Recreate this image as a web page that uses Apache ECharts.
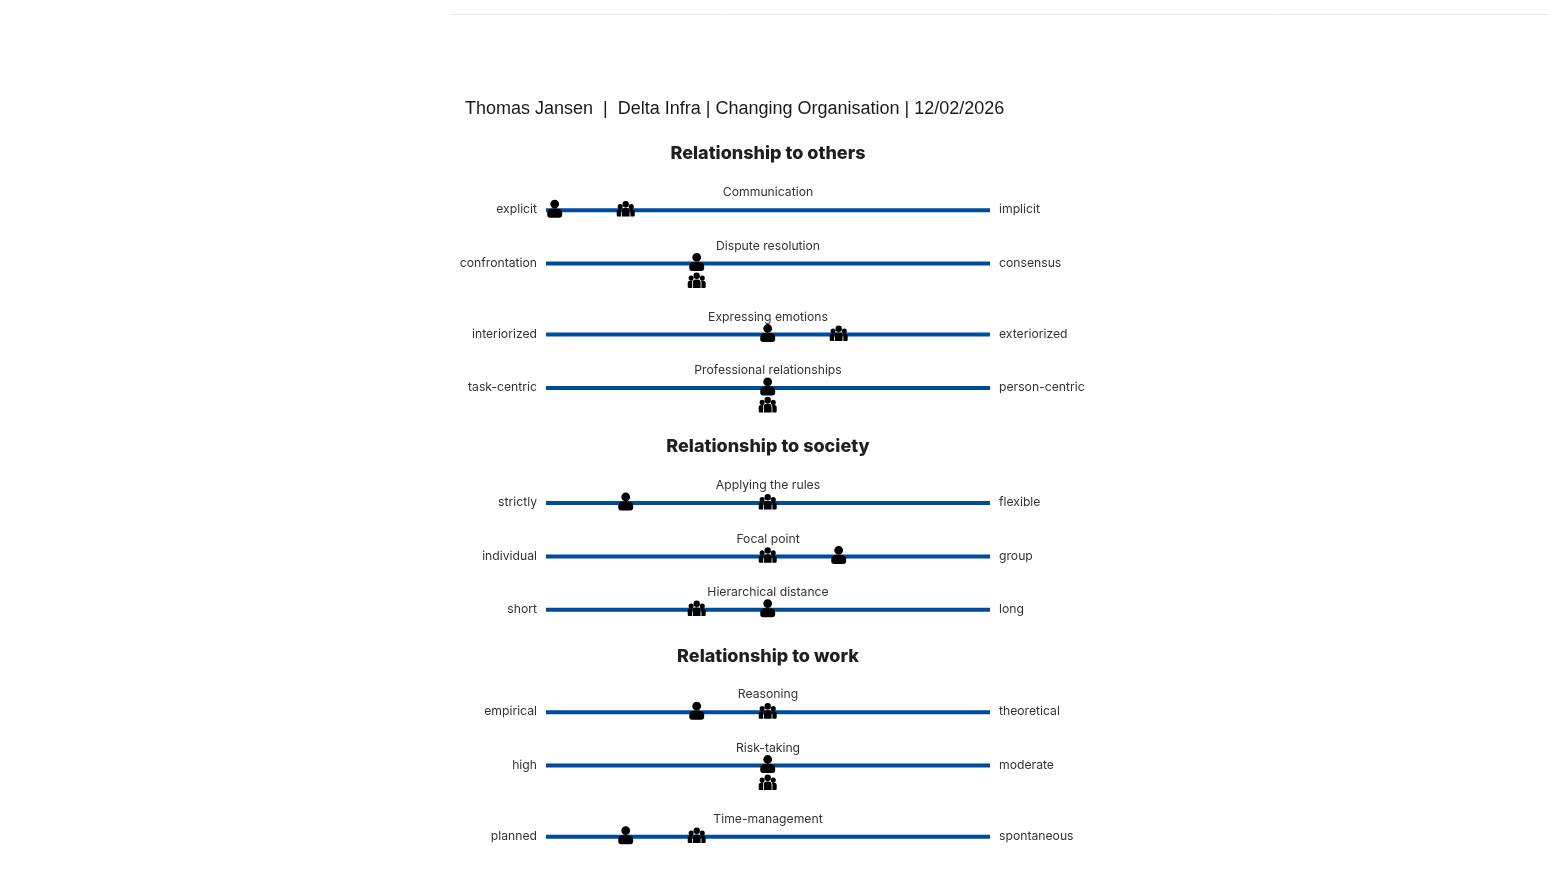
<!DOCTYPE html>
<html>
<head>
<meta charset="utf-8">
<style>html,body{margin:0;padding:0;background:#fff}#c{width:1548px;height:890px}</style>
<script src="https://cdn.jsdelivr.net/npm/echarts@6/dist/echarts.min.js"></script>
</head>
<body>
<div id="c"></div>
<script>
const chartTitle = 'Thomas Jansen \u00a0|\u00a0 Delta Infra | Changing Organisation | 12/02/2026';
const sectionNames = ['Relationship to others', 'Relationship to society', 'Relationship to work'];
const sectionSizes = [4, 3, 3];
const dimensions = ['Communication', 'Dispute resolution', 'Expressing emotions', 'Professional relationships', 'Applying the rules', 'Focal point', 'Hierarchical distance', 'Reasoning', 'Risk-taking', 'Time-management'];
const leftLabels = ['explicit', 'confrontation', 'interiorized', 'task-centric', 'strictly', 'individual', 'short', 'empirical', 'high', 'planned'];
const rightLabels = ['implicit', 'consensus', 'exteriorized', 'person-centric', 'flexible', 'group', 'long', 'theoretical', 'moderate', 'spontaneous'];
const personValues = [1, 3, 4, 4, 2, 5, 4, 3, 4, 2];
const groupValues = [2, 3, 5, 4, 4, 4, 3, 4, 4, 3];

const circle = (x, y, r) => `M${x - r} ${y}a${r} ${r} 0 1 0 ${2 * r} 0a${r} ${r} 0 1 0 ${-2 * r} 0Z`;
const personPath = 'path://' + circle(7.5, 4.4, 4.4) + 'M0 15V14Q0 9 5 9H10Q15 9 15 14V15Q15 18 12 18H3Q0 18 0 15Z';
const groupPath = 'path://' + circle(9, 3.2, 3.2) + circle(3.4, 5.4, 2.5) + circle(14.6, 5.4, 2.5) +
  'M5.1 15V9.6Q5.1 6.8 8 6.8H10Q12.9 6.8 12.9 9.6V15Z' +
  'M0 13.8V10.4Q0 8 2.6 8H4.7Q4.3 8.8 4.3 9.8V15H1.2Q0 15 0 13.8Z' +
  'M18 13.8V10.4Q18 8 15.4 8H13.3Q13.7 8.8 13.7 9.8V15H16.8Q18 15 18 13.8Z';

// Layout: walk the sections and stack the rows; a row with a stacked pair takes extra room.
const ROW_GAP = 53.3, STACK_EXTRA = 17.8, HEADER_TO_ROW = 57.2, ROW_TO_HEADER = 45.4, HEADER_STACK_EXTRA = 12.6;
const rowY = [], headerY = [];
let cursor = 153, idx = 0;
sectionSizes.forEach((n, s) => {
  headerY.push(cursor);
  cursor += HEADER_TO_ROW;
  for (let k = 0; k < n; k++, idx++) {
    rowY.push(cursor);
    const stacked = personValues[idx] === groupValues[idx];
    const last = k === n - 1;
    cursor += (last ? ROW_TO_HEADER + (stacked ? HEADER_STACK_EXTRA : 0) : ROW_GAP + (stacked ? STACK_EXTRA : 0));
  }
});

const XMIN = 0.873, XMAX = 7.127, MID = 4;
const textColor = '#333333';
const labelFont = 'Inter, "Open Sans", sans-serif';
const solid = { opacity: 1 };

const series = [];
dimensions.forEach((d, i) => {
  series.push({
    type: 'line', name: d, silent: true, symbol: 'none', z: 1,
    lineStyle: { color: '#004b9b', width: 4, cap: 'butt' },
    data: [[XMIN, rowY[i]], [XMAX, rowY[i]]]
  });
});
series.push({
  type: 'scatter', name: 'Left', symbolSize: 0, z: 3, silent: true, itemStyle: solid,
  data: leftLabels.map((t, i) => ({ value: [XMIN, rowY[i]], name: t })),
  label: { show: true, position: 'left', distance: 9, offset: [0, -0.5], formatter: p => p.name, color: textColor, fontFamily: labelFont, fontSize: 12.2 }
});
series.push({
  type: 'scatter', name: 'Right', symbolSize: 0, z: 3, silent: true, itemStyle: solid,
  data: rightLabels.map((t, i) => ({ value: [XMAX, rowY[i]], name: t })),
  label: { show: true, position: 'right', distance: 9, offset: [0, -0.5], formatter: p => p.name, color: textColor, fontFamily: labelFont, fontSize: 12.2 }
});
series.push({
  type: 'scatter', name: 'Dimensions', symbolSize: 0, z: 3, silent: true, itemStyle: solid,
  data: dimensions.map((t, i) => ({ value: [MID, rowY[i]], name: t })),
  label: { show: true, position: 'top', distance: 11.5, formatter: p => p.name, color: textColor, fontFamily: labelFont, fontSize: 12.2 }
});
series.push({
  type: 'scatter', name: 'Sections', symbolSize: 0, z: 3, silent: true, itemStyle: solid,
  data: sectionNames.map((t, i) => ({ value: [MID, headerY[i]], name: t })),
  label: { show: true, position: 'inside', offset: [0, 1], formatter: p => p.name, color: '#1f1f1f', fontFamily: labelFont, fontWeight: 800, fontSize: 18 }
});
series.push({
  type: 'scatter', name: 'Person', symbol: personPath, symbolSize: [15, 18], symbolOffset: [-0.3, -1.5], z: 5, silent: true,
  itemStyle: { color: '#000', opacity: 1 },
  data: personValues.map((v, i) => [v, rowY[i]])
});
series.push({
  type: 'scatter', name: 'Group', symbol: groupPath, symbolSize: [18, 15.6], z: 4, silent: true,
  itemStyle: { color: '#000', opacity: 1 },
  data: groupValues.map((v, i) => ({
    value: [v, rowY[i]],
    symbolOffset: [-0.3, v === personValues[i] ? 16.7 : -1.4]
  }))
});

const chart = echarts.init(document.getElementById('c'), null, { renderer: 'canvas' });
chart.setOption({
  animation: false,
  backgroundColor: '#fff',
  title: {
    text: chartTitle, left: 460, top: 95,
    textStyle: { fontFamily: '"Liberation Sans", Arial, sans-serif', fontSize: 18, fontWeight: 'normal', color: '#1a1a1a' }
  },
  graphic: [{
    type: 'line', silent: true,
    shape: { x1: 450, y1: 14.5, x2: 1548, y2: 14.5 },
    style: { stroke: '#e6e6e6', lineWidth: 1 }
  }],
  grid: { left: 546, width: 444, top: 0, height: 890 },
  xAxis: { type: 'value', min: XMIN, max: XMAX, show: false },
  yAxis: { type: 'value', min: 0, max: 890, inverse: true, show: false },
  series
});
</script>
</body>
</html>
